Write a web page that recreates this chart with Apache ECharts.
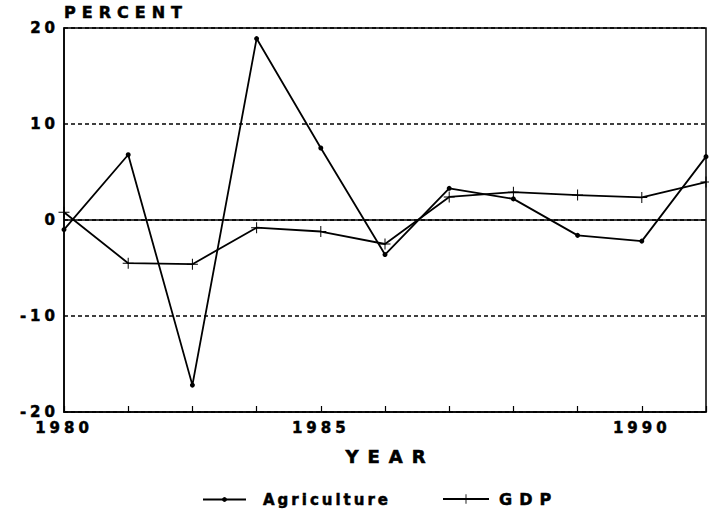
<!DOCTYPE html>
<html>
<head>
<meta charset="utf-8">
<script src="https://cdn.jsdelivr.net/npm/echarts@6/dist/echarts.min.js"></script>
<style>
html,body{margin:0;padding:0;background:#fff;}
#chart{width:709px;height:513px;}
text[style*="lsTick"]{letter-spacing:4px;stroke:#000;stroke-width:0.5px;}
text[style*="lsPct"]{letter-spacing:6px;stroke:#000;stroke-width:0.5px;}
text[style*="lsYear"]{letter-spacing:9px;stroke:#000;stroke-width:0.6px;}
text[style*="lsAg"]{letter-spacing:3px;stroke:#000;stroke-width:0.5px;}
text[style*="lsGdp"]{letter-spacing:7px;stroke:#000;stroke-width:0.5px;}
</style>
</head>
<body>
<div id="chart"></div>
<script>
// Data
const years = ['1980','1981','1982','1983','1984','1985','1986','1987','1988','1989','1990'];
const xTickLabels = ['1980','','','','1985','','','','','1990',''];
const agriculture = [-1.0, 6.8, -17.2, 18.9, 7.5, -3.6, 3.3, 2.2, -1.6, -2.2, 6.6];
const gdp = [0.8, -4.5, -4.6, -0.8, -1.2, -2.5, 2.4, 2.9, 2.6, 2.35, 3.95];
const yTicks = [-20, -10, 0, 10, 20];
const seriesNames = ['Agriculture', 'GDP'];

const plusPath = 'path://M-0.09,-1L0.09,-1L0.09,-0.09L1,-0.09L1,0.09L0.09,0.09L0.09,1L-0.09,1L-0.09,0.09L-1,0.09L-1,-0.09L-0.09,-0.09Z';
const FF = (tag) => 'DejaVu Sans, ' + tag;

const chart = echarts.init(document.getElementById('chart'), null, {renderer: 'svg'});
chart.setOption({
  backgroundColor: '#fff',
  animation: false,
  grid: {left: 64, top: 28, right: -4, bottom: 101, show: true, borderColor: '#000', borderWidth: 1.5, backgroundColor: 'transparent'},
  legend: [
    {data: [seriesNames[0]], left: 202, top: 492, padding: 0, itemWidth: 43, itemHeight: 6, selectedMode: false,
     textStyle: {fontFamily: FF('lsAg'), fontWeight: 'bold', fontSize: 15, color: '#000', padding: [0,0,0,12]}},
    {data: [seriesNames[1]], left: 442, top: 491, padding: 0, itemWidth: 46, itemHeight: 12, selectedMode: false,
     textStyle: {fontFamily: FF('lsGdp'), fontWeight: 'bold', fontSize: 16, color: '#000', padding: [0,0,0,5]}}
  ],
  xAxis: {
    type: 'category',
    data: years,
    boundaryGap: false,
    name: 'YEAR',
    nameLocation: 'middle',
    nameGap: 35,
    nameTextStyle: {fontFamily: FF('lsYear'), fontWeight: 'bold', fontSize: 18, color: '#000', padding: [0,0,0,10]},
    axisLine: {show: true, onZero: false, lineStyle: {color: '#000', width: 1.5}},
    axisTick: {show: true, inside: true, length: 6, interval: 0, lineStyle: {color: '#000', width: 1.2}},
    axisLabel: {interval: 0, margin: 8, fontFamily: FF('lsTick'), fontWeight: 'bold', fontSize: 15, color: '#000',
      formatter: (v, i) => xTickLabels[i]},
    splitLine: {show: false}
  },
  yAxis: {
    type: 'value',
    min: yTicks[0], max: yTicks[yTicks.length - 1], interval: 10,
    name: 'PERCENT',
    nameLocation: 'end',
    nameGap: 13,
    nameTextStyle: {fontFamily: FF('lsPct'), fontWeight: 'bold', fontSize: 16, color: '#000', align: 'left', verticalAlign: 'middle'},
    axisLine: {show: true, lineStyle: {color: '#000', width: 1.5}},
    axisTick: {show: false},
    axisLabel: {margin: 5, fontFamily: FF('lsTick'), fontWeight: 'bold', fontSize: 15, color: '#000'},
    splitLine: {show: true, lineStyle: {color: '#000', width: 1.5, type: [4, 3]}}
  },
  series: [
    {
      name: seriesNames[0], type: 'line', data: agriculture,
      symbol: 'circle', symbolSize: 5, showAllSymbol: true,
      itemStyle: {color: '#000'}, lineStyle: {color: '#000', width: 1.8},
      markLine: {silent: true, symbol: 'none', label: {show: false},
        lineStyle: {color: '#000', width: 1.5, type: 'solid'}, data: [{yAxis: 0}]}
    },
    {
      name: seriesNames[1], type: 'line', data: gdp,
      symbol: plusPath, symbolSize: 11, showAllSymbol: true,
      itemStyle: {color: '#000'}, lineStyle: {color: '#000', width: 1.8}
    }
  ]
});
</script>
</body>
</html>
